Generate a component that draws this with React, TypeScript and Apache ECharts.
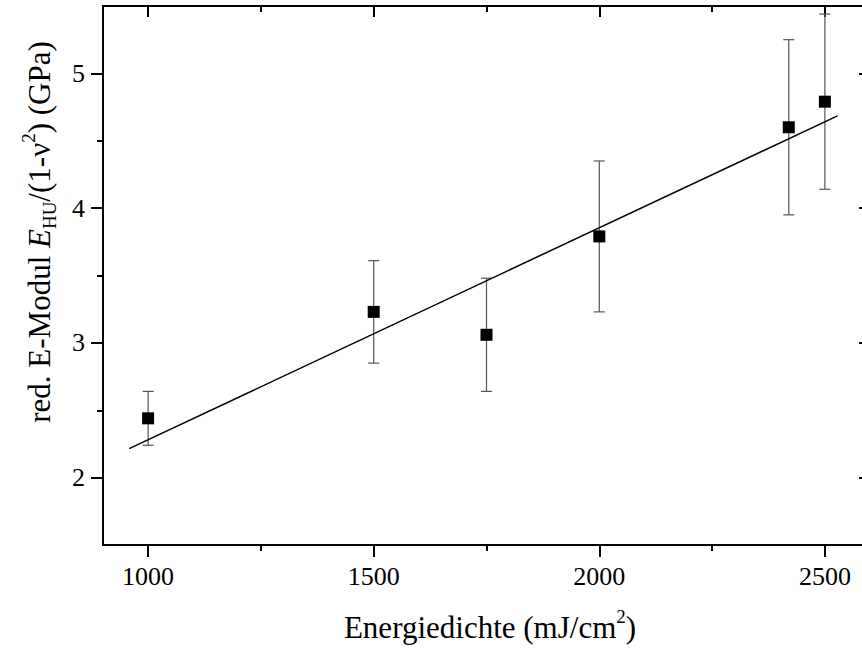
import React, { useEffect, useRef } from "react";
import * as echarts from "echarts";

// Data
const energy = [1000, 1500, 1750, 2000, 2420, 2500];
const modulus = [2.44, 3.23, 3.06, 3.79, 4.6, 4.79];
const errors = [0.2, 0.38, 0.42, 0.56, 0.65, 0.65];
const fitX = [958, 2528];
const fitY = [2.215, 4.685];

const xMajor = [1000, 1500, 2000, 2500];
const xMinor = [1250, 1750, 2250];
const yMajor = [2, 3, 4, 5];
const yMinor = [2.5, 3.5, 4.5];

const FONT = "Liberation Serif";

export default function App() {
  const ref = useRef<HTMLDivElement>(null);
  useEffect(() => {
    if (!ref.current) return;
    const chart = echarts.init(ref.current, null, { renderer: "svg" });
    const axisBaseX = { type: "value", min: 900, max: 2600, splitLine: { show: false } };
    const axisBaseY = { type: "value", min: 1.5, max: 5.5, splitLine: { show: false } };
    const lineStyle = { color: "#000", width: 2 };
    const option: any = {
      animation: false,
      backgroundColor: "#fff",
      grid: { left: 103, top: 6, width: 767, height: 539, outerBoundsMode: "none", containLabel: false },
      xAxis: [
        {
          ...axisBaseX,
          position: "bottom",
          axisLine: { show: true, lineStyle },
          axisTick: { show: true, inside: false, length: 12, customValues: xMajor, lineStyle: { width: 2, color: "#000" } },
          axisLabel: {
            show: true,
            customValues: xMajor,
            formatter: (v: number) => String(v),
            fontSize: 26,
            fontFamily: FONT,
            color: "#000",
            margin: 18,
          },
        },
        {
          ...axisBaseX,
          position: "bottom",
          axisLine: { show: false },
          axisTick: { show: true, inside: false, length: 6, customValues: xMinor, lineStyle: { width: 2, color: "#000" } },
          axisLabel: { show: false },
        },
        {
          ...axisBaseX,
          position: "top",
          axisLine: { show: true, lineStyle },
          axisTick: { show: true, inside: true, length: 11, customValues: xMajor, lineStyle: { width: 2, color: "#000" } },
          axisLabel: { show: false },
        },
        {
          ...axisBaseX,
          position: "top",
          axisLine: { show: false },
          axisTick: { show: true, inside: true, length: 6, customValues: xMinor, lineStyle: { width: 2, color: "#000" } },
          axisLabel: { show: false },
        },
      ],
      yAxis: [
        {
          ...axisBaseY,
          position: "left",
          axisLine: { show: true, lineStyle },
          axisTick: { show: true, inside: false, length: 12, customValues: yMajor, lineStyle: { width: 2, color: "#000" } },
          axisLabel: {
            show: true,
            customValues: yMajor,
            formatter: (v: number) => String(v),
            fontSize: 26,
            fontFamily: FONT,
            color: "#000",
            margin: 18,
          },
        },
        {
          ...axisBaseY,
          position: "left",
          axisLine: { show: false },
          axisTick: { show: true, inside: false, length: 6, customValues: yMinor, lineStyle: { width: 2, color: "#000" } },
          axisLabel: { show: false },
        },
        {
          ...axisBaseY,
          position: "right",
          axisLine: { show: true, lineStyle },
          axisTick: { show: true, inside: true, length: 11, customValues: yMajor, lineStyle: { width: 2, color: "#000" } },
          axisLabel: { show: false },
        },
        {
          ...axisBaseY,
          position: "right",
          axisLine: { show: false },
          axisTick: { show: true, inside: true, length: 6, customValues: yMinor, lineStyle: { width: 2, color: "#000" } },
          axisLabel: { show: false },
        },
      ],
      series: [
        {
          type: "custom",
          xAxisIndex: 0,
          yAxisIndex: 0,
          z: 1,
          data: energy.map((x, i) => [x, modulus[i] - errors[i], modulus[i] + errors[i]]),
          encode: { x: 0, y: [1, 2] },
          renderItem: (params: any, api: any) => {
            const x = api.value(0);
            const lo = api.coord([x, api.value(1)]);
            const hi = api.coord([x, api.value(2)]);
            const w = 5.5;
            const st = { stroke: "#555", lineWidth: 1.2 };
            return {
              type: "group",
              children: [
                { type: "line", shape: { x1: lo[0], y1: lo[1], x2: hi[0], y2: hi[1] }, style: st },
                { type: "line", shape: { x1: lo[0] - w, y1: lo[1], x2: lo[0] + w, y2: lo[1] }, style: st },
                { type: "line", shape: { x1: hi[0] - w, y1: hi[1], x2: hi[0] + w, y2: hi[1] }, style: st },
              ],
            };
          },
        },
        {
          type: "line",
          xAxisIndex: 0,
          yAxisIndex: 0,
          z: 2,
          symbol: "none",
          data: fitX.map((x, i) => [x, fitY[i]]),
          lineStyle: { color: "#000", width: 1.5 },
        },
        {
          type: "scatter",
          xAxisIndex: 0,
          yAxisIndex: 0,
          z: 3,
          symbol: "rect",
          symbolSize: 12,
          itemStyle: { color: "#000", opacity: 1 },
          data: energy.map((x, i) => [x, modulus[i]]),
        },
      ],
      graphic: [
        {
          type: "text",
          x: 490,
          y: 627,
          style: {
            text: "{n|Energiedichte (mJ/cm}{sup|2}{n|)}",
            align: "center",
            verticalAlign: "middle",
            fill: "#000",
            rich: {
              n: { fontSize: 31, fontFamily: FONT, lineHeight: 40, fill: "#000" },
              sup: { fontSize: 19, fontFamily: FONT, lineHeight: 22, verticalAlign: "top", fill: "#000" },
            },
          },
        },
        {
          type: "text",
          x: 39,
          y: 232,
          rotation: Math.PI / 2,
          style: {
            text: "{n|red. E-Modul }{i|E}{sub|HU}{n|/(1-ν}{sup|2}{n|) (GPa)}",
            align: "center",
            verticalAlign: "middle",
            fill: "#000",
            rich: {
              n: { fontSize: 31, fontFamily: FONT, lineHeight: 40, fill: "#000" },
              i: { fontSize: 31, fontFamily: FONT, fontStyle: "italic", lineHeight: 40, fill: "#000" },
              sub: { fontSize: 19, fontFamily: FONT, lineHeight: 22, verticalAlign: "bottom", fill: "#000" },
              sup: { fontSize: 19, fontFamily: FONT, lineHeight: 22, verticalAlign: "top", fill: "#000" },
            },
          },
        },
      ],
    };
    chart.setOption(option);
    return () => chart.dispose();
  }, []);
  return (
    <div
      ref={ref}
      style={{ position: "absolute", left: 0, top: 0, width: 862, height: 649, background: "#fff" }}
    />
  );
}
